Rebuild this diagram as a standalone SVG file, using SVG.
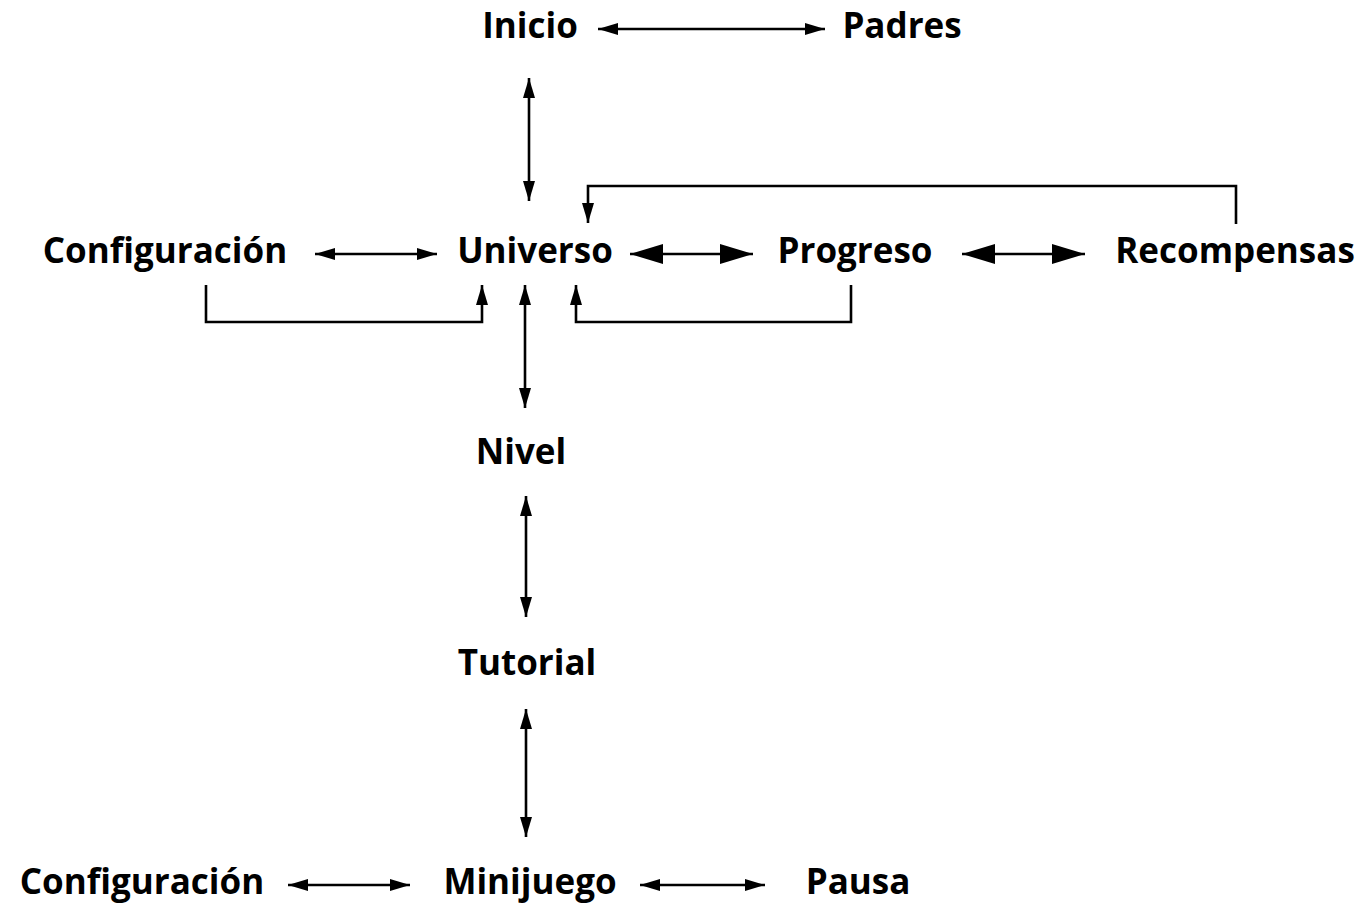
<svg xmlns="http://www.w3.org/2000/svg" width="1371" height="903" viewBox="0 0 1371 903">
  <style>
    .lbl { font-family: "Open Sans", "Noto Sans", sans-serif; font-weight: 700; font-size: 35px; fill: #000; text-anchor: middle; }
    .ln { fill: none; stroke: #000; stroke-width: 2.6; }
  </style>
  <defs>
    <marker id="sm" viewBox="0 0 20 12" refX="20" refY="6" markerWidth="20" markerHeight="12" markerUnits="userSpaceOnUse" orient="auto-start-reverse">
      <path d="M0,0 L20,6 L0,12 Z" fill="#000"/>
    </marker>
    <marker id="lg" viewBox="0 0 33 20" refX="33" refY="10" markerWidth="33" markerHeight="20" markerUnits="userSpaceOnUse" orient="auto-start-reverse">
      <path d="M0,0 L33,10 L0,20 Z" fill="#000"/>
    </marker>
  </defs>

  <rect width="1371" height="903" fill="#fff"/>

  <g id="connectors">
    <line class="ln" x1="598" y1="29" x2="825" y2="29" marker-start="url(#sm)" marker-end="url(#sm)"/>
    <line class="ln" x1="529" y1="78" x2="529" y2="201" marker-start="url(#sm)" marker-end="url(#sm)"/>
    <line class="ln" x1="315" y1="254" x2="437" y2="254" marker-start="url(#sm)" marker-end="url(#sm)"/>
    <line class="ln" x1="630" y1="254" x2="753" y2="254" marker-start="url(#lg)" marker-end="url(#lg)"/>
    <line class="ln" x1="962" y1="254" x2="1085" y2="254" marker-start="url(#lg)" marker-end="url(#lg)"/>
    <path class="ln" d="M1236,224 V186 H588 V223" marker-end="url(#sm)"/>
    <path class="ln" d="M206,285 V322 H482 V285" marker-end="url(#sm)"/>
    <path class="ln" d="M851,285 V322 H576 V285" marker-end="url(#sm)"/>
    <line class="ln" x1="525" y1="285" x2="525" y2="408" marker-start="url(#sm)" marker-end="url(#sm)"/>
    <line class="ln" x1="526" y1="496" x2="526" y2="617" marker-start="url(#sm)" marker-end="url(#sm)"/>
    <line class="ln" x1="526" y1="709" x2="526" y2="837" marker-start="url(#sm)" marker-end="url(#sm)"/>
    <line class="ln" x1="288" y1="885" x2="410" y2="885" marker-start="url(#sm)" marker-end="url(#sm)"/>
    <line class="ln" x1="640" y1="885" x2="765" y2="885" marker-start="url(#sm)" marker-end="url(#sm)"/>
  </g>

  <g id="inicio"><text class="lbl" x="530" y="38">Inicio</text></g>
  <g id="padres"><text class="lbl" x="902" y="38">Padres</text></g>
  <g id="configuracion"><text class="lbl" x="165" y="263">Configuración</text></g>
  <g id="universo"><text class="lbl" x="535" y="263">Universo</text></g>
  <g id="progreso"><text class="lbl" x="855" y="263">Progreso</text></g>
  <g id="recompensas"><text class="lbl" x="1235" y="263">Recompensas</text></g>
  <g id="nivel"><text class="lbl" x="521" y="464">Nivel</text></g>
  <g id="tutorial"><text class="lbl" x="527" y="675">Tutorial</text></g>
  <g id="configuracion-minijuego"><text class="lbl" x="142" y="894">Configuración</text></g>
  <g id="minijuego"><text class="lbl" x="530" y="894">Minijuego</text></g>
  <g id="pausa"><text class="lbl" x="858" y="894">Pausa</text></g>
</svg>
